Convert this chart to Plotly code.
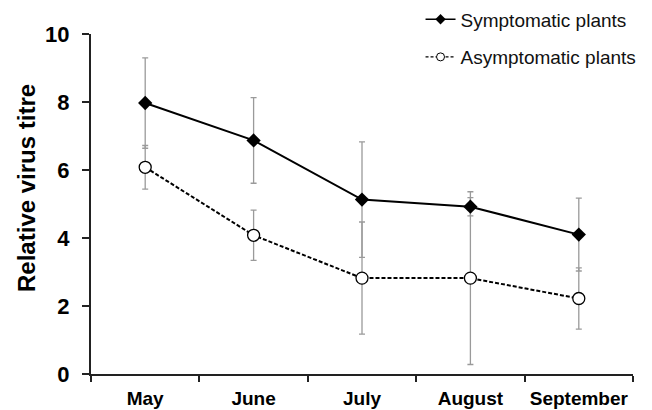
import plotly.graph_objects as go

months = ["May", "June", "July", "August", "September"]
symptomatic = [7.97, 6.87, 5.13, 4.92, 4.10]
symptomatic_err = [1.33, 1.26, 1.70, 0.27, 1.07]
asymptomatic = [6.08, 4.08, 2.82, 2.82, 2.22]
asymptomatic_err = [0.64, 0.74, 1.65, 2.54, 0.90]
y_ticks = [0, 2, 4, 6, 8, 10]

FONT = "Liberation Sans, Arial, Helvetica, sans-serif"
ERR_COL = "#9a9a9a"

fig = go.Figure()

# error bars (drawn beneath)
for vals, errs in [(symptomatic, symptomatic_err), (asymptomatic, asymptomatic_err)]:
    fig.add_trace(go.Scatter(
        x=months, y=vals, mode="markers", marker=dict(size=0.1, opacity=0),
        error_y=dict(type="data", array=errs, visible=True, color=ERR_COL,
                     thickness=1.3, width=3),
        showlegend=False, hoverinfo="skip"))

fig.add_trace(go.Scatter(
    x=months, y=symptomatic, mode="lines+markers", name="Symptomatic plants",
    line=dict(color="black", width=2),
    marker=dict(symbol="diamond", size=11, color="black"),
    showlegend=False))
fig.add_trace(go.Scatter(
    x=months, y=asymptomatic, mode="lines+markers", name="Asymptomatic plants",
    line=dict(color="black", width=2, dash="4px,2px"),
    marker=dict(symbol="circle", size=12, color="white",
                line=dict(color="black", width=1.3)),
    showlegend=False))

# legend entries (smaller symbols as in the reference)
fig.add_trace(go.Scatter(
    x=[None], y=[None], mode="lines+markers", name="Symptomatic plants",
    line=dict(color="black", width=1.5),
    marker=dict(symbol="diamond", size=8, color="black"),
    legendgroup="a"))
fig.add_trace(go.Scatter(
    x=[None], y=[None], mode="lines+markers", name="Asymptomatic plants",
    line=dict(color="black", width=1.3, dash="3px,2px"),
    marker=dict(symbol="circle", size=8, color="white",
                line=dict(color="black", width=1)),
    legendgroup="b"))

fig.update_layout(
    width=652, height=410,
    margin=dict(l=91, r=19, t=34, b=36, autoexpand=False),
    paper_bgcolor="white", plot_bgcolor="white",
    font=dict(family=FONT, color="black"),
    showlegend=True,
    legend=dict(x=0.608, y=1.099, xanchor="left", yanchor="top",
                font=dict(size=19, color="#111"), bgcolor="rgba(0,0,0,0)",
                tracegroupgap=10, traceorder="grouped", itemwidth=30),
    xaxis=dict(type="category", range=[-0.5, 4.5], tickson="boundaries",
               automargin=False, tickangle=0,
               showline=True, linecolor="#222", linewidth=2,
               ticks="outside", ticklen=6, tickcolor="#222", tickwidth=2,
               showgrid=False, zeroline=False, ticklabelstandoff=6,
               tickfont=dict(size=19, family=FONT, weight="bold")),
    yaxis=dict(range=[0, 10], tickvals=y_ticks, automargin=False,
               showline=True, linecolor="#222", linewidth=2,
               ticks="outside", ticklen=7, tickcolor="#222", tickwidth=2,
               showgrid=False, zeroline=False, ticklabelstandoff=8,
               tickfont=dict(size=22, family=FONT, weight="bold")),
    annotations=[dict(text="<b>Relative virus titre</b>", textangle=-90,
                      xref="paper", yref="paper", x=-0.12, y=0.547,
                      xanchor="center", yanchor="middle", showarrow=False,
                      font=dict(size=24, family=FONT, color="black"))],
)

fig.write_html("out.html")
